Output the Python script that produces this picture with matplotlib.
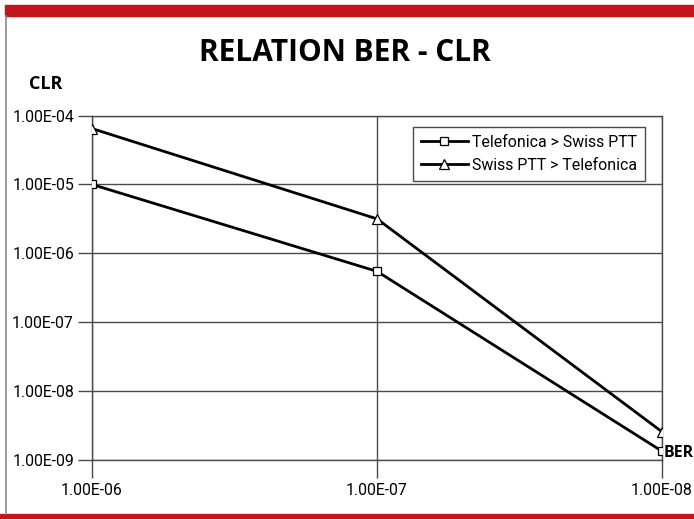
import matplotlib
matplotlib.use('Agg')
import matplotlib.pyplot as plt
from matplotlib.patches import Rectangle
from matplotlib.lines import Line2D

# Data
ber = [1e-6, 1e-7, 1e-8]
ber_labels = ['1.00E-06', '1.00E-07', '1.00E-08']
clr_ticks = [1e-9, 1e-8, 1e-7, 1e-6, 1e-5, 1e-4]
clr_labels = ['1.00E-09', '1.00E-08', '1.00E-07', '1.00E-06', '1.00E-05', '1.00E-04']

tel_to_swiss = [1.0e-5, 5.45e-7, 1.32e-9]
swiss_to_tel = [6.5e-5, 3.16e-6, 2.53e-9]

narrow = ['Roboto', 'DejaVu Sans']
bold = ['Open Sans', 'DejaVu Sans']
grid_col = '#4a4a4a'
red = '#c2141b'

fig = plt.figure(figsize=(6.94, 5.19), dpi=100)
ax = fig.add_axes([92 / 694, 1 - 459.5 / 519, 570 / 694, 343.8 / 519])

ax.plot(ber, tel_to_swiss, color='black', lw=2.0, marker='s', ms=6,
        mfc='white', mec='black', mew=0.9, label='Telefonica > Swiss PTT', zorder=3)
ax.plot(ber, swiss_to_tel, color='black', lw=2.0, marker='^', ms=7,
        mfc='white', mec='black', mew=0.9, label='Swiss PTT > Telefonica', zorder=3)

ax.set_xscale('log')
ax.set_yscale('log')
ax.set_xlim(1e-6, 1e-8)
ax.set_ylim(1e-9, 1e-4)
ax.set_xticks(ber)
ax.set_xticklabels(ber_labels, family=narrow, fontsize=11.4)
ax.set_yticks(clr_ticks)
ax.set_yticklabels(clr_labels, family=narrow, fontsize=11.4)
ax.minorticks_off()
ax.tick_params(axis='x', direction='out', length=13, width=1, color=grid_col, pad=4)
ax.tick_params(axis='y', direction='out', length=10, width=1, color=grid_col, pad=3)
ax.grid(True, color=grid_col, lw=1)
for s in ax.spines.values():
    s.set_color(grid_col)
    s.set_linewidth(1)

leg = ax.legend(loc='upper right', bbox_to_anchor=(645 / 694, 1 - 127 / 519),
                bbox_transform=fig.transFigure, prop={'family': narrow, 'size': 11.4},
                fancybox=False, framealpha=1, edgecolor=grid_col, handlelength=3.0,
                handletextpad=0.25, borderpad=0.5, labelspacing=0.5, borderaxespad=0)
leg.get_frame().set_linewidth(1)

fig.text(345 / 694, 1 - 53 / 519, 'RELATION BER - CLR', family=bold, weight='bold',
         fontsize=21.5, ha='center', va='center')
fig.text(46 / 694, 1 - 84 / 519, 'CLR', family=bold, weight='bold',
         fontsize=13, ha='center', va='center')
fig.text(664 / 694, 1 - 453 / 519, 'BER', family=bold, weight='bold',
         fontsize=11.5, ha='left', va='center')

# page decoration: red bars top and bottom, grey left edge
fig.patches.append(Rectangle((5 / 694, 1 - 16 / 519), 1, 11 / 519, transform=fig.transFigure,
                             color=red, zorder=0))
fig.patches.append(Rectangle((0, 0), 1, 5 / 519, transform=fig.transFigure,
                             color=red, zorder=0))
fig.lines.append(Line2D([6 / 694, 6 / 694], [5 / 519, 1 - 16 / 519], transform=fig.transFigure,
                        color='#8a8a8a', lw=1.2))

fig.savefig('out.png', dpi=100)
